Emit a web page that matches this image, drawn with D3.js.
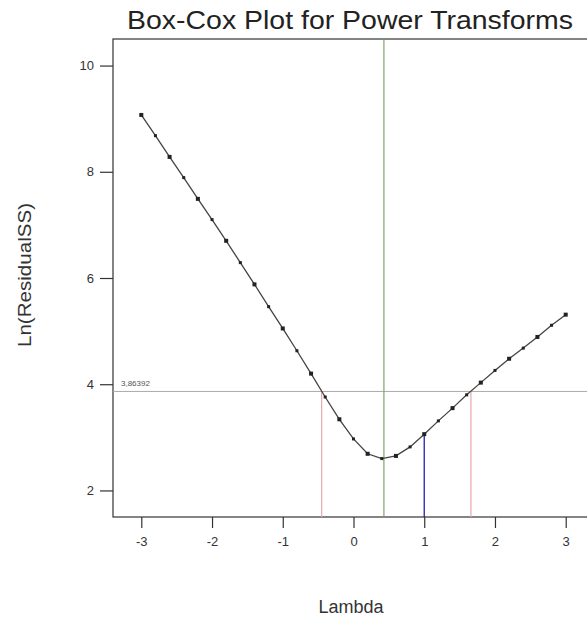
<!DOCTYPE html>
<html>
<head>
<meta charset="utf-8">
<script src="https://cdn.jsdelivr.net/npm/d3@7"></script>
<style>
  body { margin: 0; background: #fff; }
  svg { display: block; font-family: Arial, "Liberation Sans", sans-serif; }
</style>
</head>
<body>
<div id="container"></div>
<script>
// lambda grid and Ln(ResidualSS) values
const lambdas = [-3, -2.8, -2.6, -2.4, -2.2, -2, -1.8, -1.6, -1.4, -1.2, -1, -0.8, -0.6, -0.4, -0.2, 0,
    0.2, 0.4, 0.6, 0.8, 1, 1.2, 1.4, 1.6, 1.8, 2, 2.2, 2.4, 2.6, 2.8, 3];
const lnRss = [9.07, 8.68, 8.28, 7.89, 7.49, 7.10, 6.70, 6.29, 5.88, 5.46, 5.05, 4.63, 4.20, 3.76, 3.34, 2.97,
    2.69, 2.60, 2.65, 2.82, 3.06, 3.31, 3.55, 3.80, 4.03, 4.26, 4.48, 4.68, 4.89, 5.11, 5.31];
const xTicks = [-3, -2, -1, 0, 1, 2, 3];
const yTicks = [2, 4, 6, 8, 10];
const bestLambda = 0.43;
const ciLimit = 3.86392;
const ciLambdas = [-0.45, 1.66];
const currentLambda = 1;
const currentValue = 3.06;

function main() {
    const width = 587, height = 621;
    const svg = d3.select("#container")
        .append("svg")
        .attr("width", width)
        .attr("height", height);

    let x = d3.scaleLinear().domain([-3.4, 3.4]).range([113, 594]);
    let y = d3.scaleLinear().domain([1.5, 10.5]).range([517, 39]);

    svg.append("text")
        .attr("x", 127)
        .attr("y", 29)
        .attr("font-size", 26)
        .attr("textLength", 446)
        .attr("lengthAdjust", "spacingAndGlyphs")
        .attr("fill", "#222")
        .text("Box-Cox Plot for Power Transforms");

    // frame
    svg.append("rect")
        .attr("x", x(-3.4))
        .attr("y", y(10.5))
        .attr("width", x(3.4) - x(-3.4))
        .attr("height", y(1.5) - y(10.5))
        .attr("fill", "none")
        .attr("stroke", "#333")
        .attr("stroke-width", 1.2);

    let xAxis = svg.append("g")
        .attr("transform", `translate(0,${y(1.5)})`)
        .call(d3.axisBottom(x).tickValues(xTicks).tickSize(11).tickPadding(9).tickFormat(d => String(d)));
    let yAxis = svg.append("g")
        .attr("transform", `translate(${x(-3.4)},0)`)
        .call(d3.axisLeft(y).tickValues(yTicks).tickSize(13).tickPadding(6).tickFormat(d => String(d)));
    [xAxis, yAxis].forEach(a => {
        a.select(".domain").remove();
        a.selectAll("line").attr("stroke", "#333").attr("stroke-width", 1.2);
        a.selectAll("text").attr("font-size", 13).attr("fill", "#333").attr("font-family", "Arial, 'Liberation Sans', sans-serif");
    });

    // reference lines
    svg.append("line")
        .attr("x1", x(-3.4)).attr("x2", x(3.4))
        .attr("y1", y(ciLimit)).attr("y2", y(ciLimit))
        .attr("stroke", "#aaa").attr("stroke-width", 1);
    svg.append("text")
        .attr("x", x(-3.4) + 8)
        .attr("y", y(ciLimit) - 5)
        .attr("font-size", 8)
        .attr("fill", "#555")
        .text(ciLimit.toString().replace(".", ","));

    svg.append("line")
        .attr("x1", x(bestLambda)).attr("x2", x(bestLambda))
        .attr("y1", y(10.5)).attr("y2", y(1.5))
        .attr("stroke", "#7aa86a").attr("stroke-width", 1.2);

    svg.selectAll(".ci")
        .data(ciLambdas)
        .join("line")
        .attr("class", "ci")
        .attr("x1", d => x(d)).attr("x2", d => x(d))
        .attr("y1", y(ciLimit)).attr("y2", y(1.5))
        .attr("stroke", "#e8a8a8").attr("stroke-width", 1.2);

    svg.append("line")
        .attr("x1", x(currentLambda)).attr("x2", x(currentLambda))
        .attr("y1", y(currentValue)).attr("y2", y(1.5))
        .attr("stroke", "#2020b0").attr("stroke-width", 1.3);

    // curve
    const pts = lambdas.map((l, i) => [l, lnRss[i]]);
    svg.append("path")
        .datum(pts)
        .attr("fill", "none")
        .attr("stroke", "#444")
        .attr("stroke-width", 1.3)
        .attr("d", d3.line().x(d => x(d[0])).y(d => y(d[1])));

    svg.append("g")
        .selectAll("rect")
        .data(pts)
        .join("rect")
        .attr("x", (d, i) => x(d[0]) - (i % 2 ? 1.5 : 2))
        .attr("y", (d, i) => y(d[1]) - (i % 2 ? 1.5 : 2))
        .attr("width", (d, i) => i % 2 ? 3 : 4)
        .attr("height", (d, i) => i % 2 ? 3 : 4)
        .attr("fill", "#222");

    svg.append("text")
        .attr("transform", `translate(31,275) rotate(-90)`)
        .attr("text-anchor", "middle")
        .attr("font-size", 19)
        .attr("textLength", 144)
        .attr("lengthAdjust", "spacingAndGlyphs")
        .attr("fill", "#333")
        .text("Ln(ResidualSS)");

    svg.append("text")
        .attr("x", 351)
        .attr("y", 613)
        .attr("text-anchor", "middle")
        .attr("font-size", 18)
        .attr("fill", "#333")
        .text("Lambda");
}
main();
</script>
</body>
</html>
